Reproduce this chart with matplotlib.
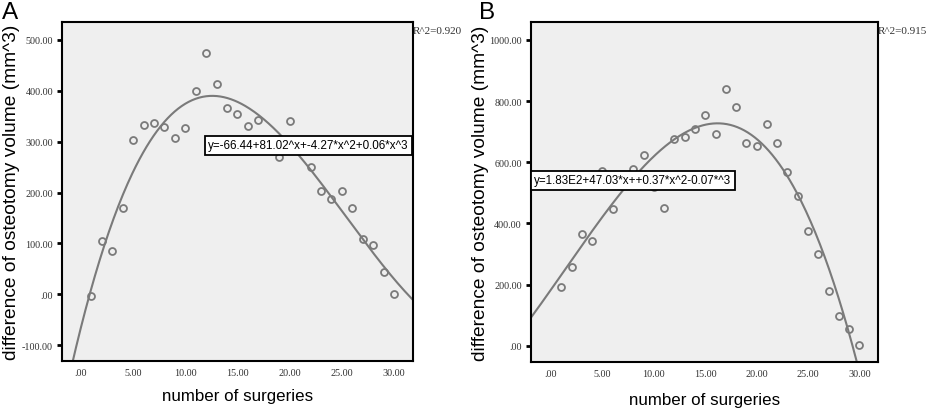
import numpy as np
import matplotlib
matplotlib.use("Agg")
import matplotlib.pyplot as plt

# number of surgeries (1..30)
surgeries = np.arange(1, 31)

# panel A: difference of osteotomy volume (mm^3)
vol_a = [-4, 105, 86, 170, 304, 332, 336, 329, 307, 327,
         400, 474, 414, 366, 355, 331, 342, 300, 270, 340,
         283, 250, 203, 187, 203, 169, 109, 96, 43, 0]
# panel B
vol_b = [191, 258, 366, 343, 570, 448, 545, 578, 625, 518,
         451, 677, 684, 709, 755, 691, 838, 780, 662, 654,
         725, 664, 567, 489, 377, 301, 180, 99, 54, 2]

xticks = [0, 5, 10, 15, 20, 25, 30]
xtick_labels = [".00", "5.00", "10.00", "15.00", "20.00", "25.00", "30.00"]
yticks_a = [-100, 0, 100, 200, 300, 400, 500]
ytick_labels_a = ["-100.00", ".00", "100.00", "200.00", "300.00", "400.00", "500.00"]
yticks_b = [0, 200, 400, 600, 800, 1000]
ytick_labels_b = [".00", "200.00", "400.00", "600.00", "800.00", "1000.00"]

eq_a = "y=-66.44+81.02^x+-4.27*x^2+0.06*x^3"
eq_b = "y=1.83E2+47.03*x++0.37*x^2-0.07*^3"
r2_a = "R^2=0.920"
r2_b = "R^2=0.915"

fig = plt.figure(figsize=(9.28, 4.10), dpi=100)
ax_a = fig.add_axes([0.0668, 0.117, 0.378, 0.827])
ax_b = fig.add_axes([0.572, 0.115, 0.374, 0.828])


def draw_panel(ax, y, xlim, ylim, yticks, ylabels, eq, eq_xy, r2, letter, letter_x, xlab_y):
    ax.set_facecolor("#efefef")
    # cubic fit through the points
    coef = np.polyfit(surgeries, y, 3)
    xs = np.linspace(xlim[0], xlim[1], 300)
    ax.plot(xs, np.polyval(coef, xs), color="#7a7a7a", lw=1.5, zorder=2)
    ax.plot(surgeries, y, ls="none", marker="o", ms=5, mfc="none",
            mec="#7a7a7a", mew=1.3, zorder=3)
    ax.set_xlim(xlim)
    ax.set_ylim(ylim)
    ax.set_xticks(xticks)
    ax.set_xticklabels(xtick_labels, family="Liberation Serif", fontsize=7.3, color="#333333")
    ax.set_yticks(yticks)
    ax.set_yticklabels(ylabels, family="Liberation Serif", fontsize=7.3, color="#333333")
    ax.tick_params(axis="x", length=0, pad=5)
    ax.tick_params(axis="y", length=3.5, width=2, pad=3)
    for s in ax.spines.values():
        s.set_linewidth(1.5)
    ax.set_xlabel("number of surgeries", family="Liberation Sans", fontsize=12.2)
    ax.set_ylabel("difference of osteotomy volume (mm^3)", family="Liberation Sans",
                  fontsize=13.8)
    ax.xaxis.set_label_coords(0.5, xlab_y)
    ax.yaxis.set_label_coords(-0.12, 0.5)
    ax.text(eq_xy[0], eq_xy[1], eq, transform=ax.transAxes, family="Liberation Sans",
            fontsize=8.4, va="center", ha="left", zorder=5,
            bbox=dict(boxstyle="square,pad=0.3", fc="white", ec="black", lw=1.3))
    ax.text(1.0, 0.975, r2, transform=ax.transAxes, family="Liberation Serif",
            fontsize=8, color="#333333", ha="left", va="center")
    fig.text(letter_x, 0.995, letter, family="Liberation Sans", fontsize=17.5, va="top")


draw_panel(ax_a, vol_a, (-1.82, 31.8), (-131, 535), yticks_a, ytick_labels_a,
           eq_a, (0.417, 0.636), r2_a, "A", 0.002, -0.08)
draw_panel(ax_b, vol_b, (-1.97, 31.8), (-52, 1057), yticks_b, ytick_labels_b,
           eq_b, (0.01, 0.535), r2_b, "B", 0.516, -0.088)

fig.savefig("out.png", dpi=100)
